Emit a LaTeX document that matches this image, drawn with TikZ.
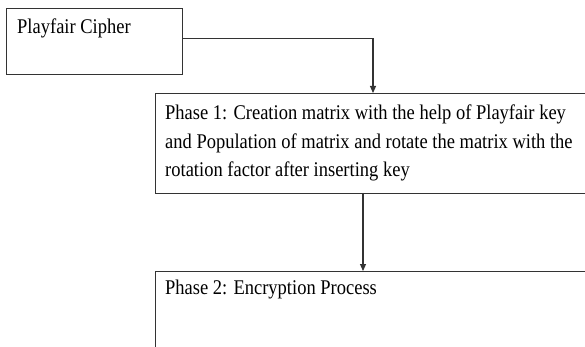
\documentclass[tikz,border=0pt]{standalone}
\usepackage{fontspec}
\setmainfont{Liberation Serif}
\usetikzlibrary{arrows.meta}
\newcommand{\tallText}[1]{\scalebox{1}[1.13]{\begin{tabular}[t]{@{}l@{}}#1\end{tabular}}}
\begin{document}
\begin{tikzpicture}[x=1pt,y=-1pt,
  box/.style={draw=black!80,line width=1.1pt,rectangle,inner sep=0pt,anchor=north west},
  lbl/.style={anchor=base west,inner sep=0pt,font=\fontsize{18.5}{25.2}\selectfont},
  conn/.style={draw=black!80,line width=1.1pt,-{Triangle[width=6pt,length=7pt]}}]
\useasboundingbox (0,0) rectangle (585,347);
\clip (0,0) rectangle (585,347);
\fill[white] (0,0) rectangle (585,347);
\node[box,minimum width=176pt,minimum height=66pt] (box1) at (6,8) {};
\node[box,minimum width=445pt,minimum height=100pt] (box2) at (155,93) {};
\node[box,minimum width=445pt,minimum height=100pt] (box3) at (155,271) {};
\node[lbl] (t1) at (17,34) {\tallText{Playfair Cipher}};
\node[lbl] (t2) at (165,120) {\tallText{Phase 1: Creation matrix with the help of Playfair key\\and Population of matrix and rotate the matrix with the\\rotation factor after inserting key}};
\node[lbl] (t3) at (165,294) {\tallText{Phase 2: Encryption Process}};
\coordinate (c1) at (373,93);
\coordinate (c2) at (363,193);
\draw[conn] ([yshift=3pt]box1.east) -| (c1);
\draw[conn] (c2) -- (c2 |- box3.north);
\end{tikzpicture}
\end{document}
